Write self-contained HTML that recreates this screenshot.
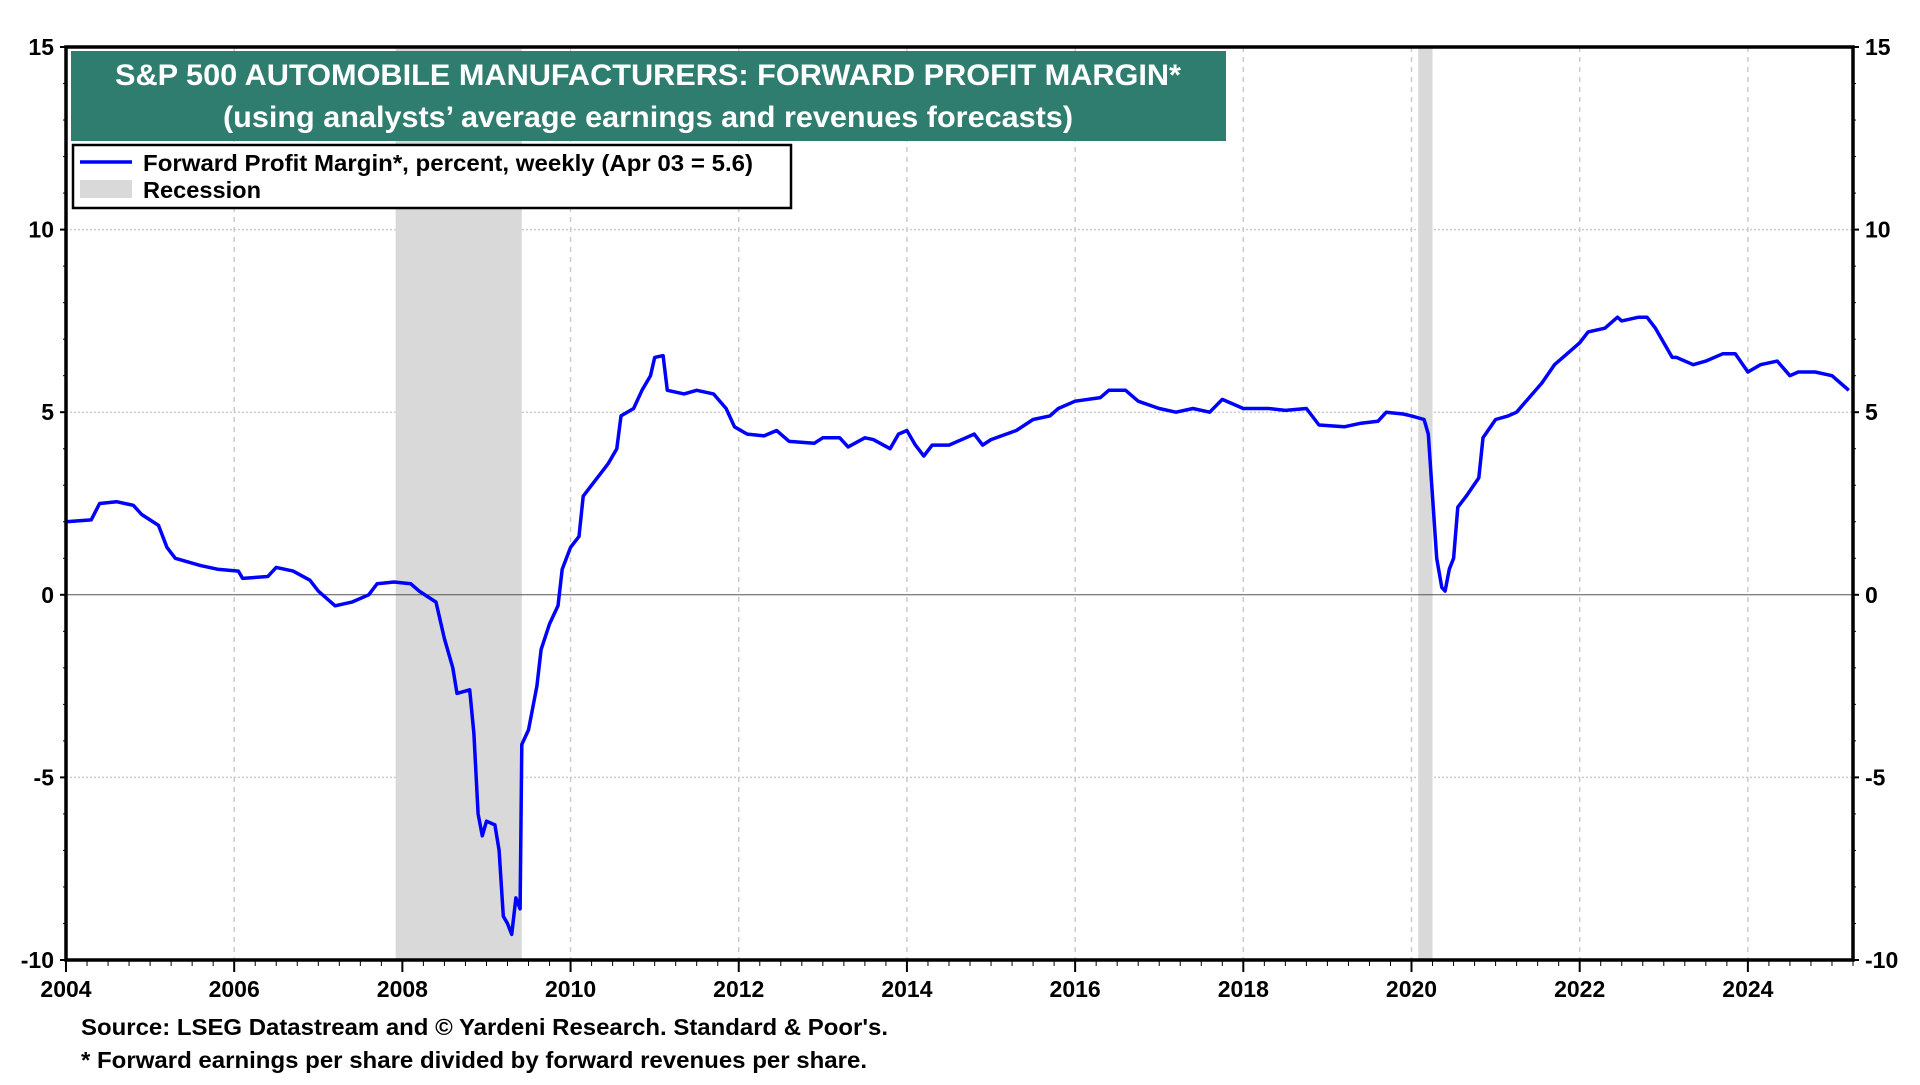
<!DOCTYPE html>
<html><head><meta charset="utf-8">
<style>
html,body{margin:0;padding:0;background:#fff;}
body{width:1920px;height:1080px;overflow:hidden;font-family:"Liberation Sans",sans-serif;}
svg text{font-family:"Liberation Sans",sans-serif;font-weight:bold;}
</style></head>
<body>
<svg id="chart" width="1920" height="1080" xmlns="http://www.w3.org/2000/svg">
<g id="grid"></g>
<g id="recessions"></g>
<line id="zero" stroke="#555" stroke-width="1"/>
<path id="line" fill="none" stroke="#0000ff" stroke-width="3.5" stroke-linejoin="round"/>
<rect x="66" y="47" width="1787" height="913" fill="none" stroke="#000" stroke-width="3.5"/>
<g id="axes"></g>
<rect x="71" y="51" width="1155" height="90" fill="#2e7d6f"/>
<text x="648" y="85" fill="#fff" font-size="30" text-anchor="middle" textLength="1066" lengthAdjust="spacingAndGlyphs">S&amp;P 500 AUTOMOBILE MANUFACTURERS: FORWARD PROFIT MARGIN*</text>
<text x="648" y="127" fill="#fff" font-size="30" text-anchor="middle" textLength="850" lengthAdjust="spacingAndGlyphs">(using analysts’ average earnings and revenues forecasts)</text>
<g>
<rect x="73" y="145" width="718" height="63" fill="#fff" stroke="#000" stroke-width="2.5"/>
<line x1="80" y1="162" x2="132" y2="162" stroke="#0000ff" stroke-width="3.5"/>
<text x="143" y="171" font-size="23" textLength="610" lengthAdjust="spacingAndGlyphs">Forward Profit Margin*, percent, weekly (Apr 03 = 5.6)</text>
<rect x="80" y="180" width="52" height="18" fill="#d9d9d9"/>
<text x="143" y="198" font-size="23" textLength="118" lengthAdjust="spacingAndGlyphs">Recession</text>
</g>
<text x="81" y="1035" font-size="23" textLength="807" lengthAdjust="spacingAndGlyphs">Source: LSEG Datastream and © Yardeni Research. Standard &amp; Poor's.</text>
<text x="81" y="1068" font-size="23" textLength="786" lengthAdjust="spacingAndGlyphs">* Forward earnings per share divided by forward revenues per share.</text>
</svg>
<script>
const years=[2004.0,2004.3,2004.4,2004.6,2004.8,2004.9,2005.1,2005.2,2005.3,2005.6,2005.8,2006.05,2006.1,2006.4,2006.5,2006.7,2006.9,2007.0,2007.2,2007.4,2007.6,2007.7,2007.9,2008.1,2008.2,2008.4,2008.5,2008.6,2008.65,2008.8,2008.85,2008.9,2008.95,2009.0,2009.1,2009.15,2009.2,2009.25,2009.3,2009.35,2009.4,2009.42,2009.5,2009.6,2009.65,2009.75,2009.85,2009.9,2010.0,2010.1,2010.15,2010.25,2010.35,2010.45,2010.55,2010.6,2010.75,2010.85,2010.95,2011.0,2011.1,2011.15,2011.35,2011.5,2011.7,2011.85,2011.95,2012.1,2012.3,2012.45,2012.6,2012.9,2013.0,2013.2,2013.3,2013.5,2013.6,2013.8,2013.9,2014.0,2014.1,2014.2,2014.3,2014.5,2014.7,2014.8,2014.9,2015.0,2015.3,2015.5,2015.7,2015.8,2016.0,2016.3,2016.4,2016.6,2016.75,2017.0,2017.2,2017.4,2017.6,2017.75,2018.0,2018.3,2018.5,2018.75,2018.9,2019.2,2019.4,2019.6,2019.7,2019.9,2020.0,2020.15,2020.2,2020.25,2020.3,2020.36,2020.4,2020.45,2020.5,2020.55,2020.65,2020.8,2020.85,2021.0,2021.15,2021.25,2021.4,2021.55,2021.7,2021.8,2022.0,2022.1,2022.3,2022.45,2022.5,2022.7,2022.8,2022.9,2023.1,2023.15,2023.35,2023.5,2023.7,2023.85,2024.0,2024.15,2024.35,2024.5,2024.6,2024.8,2025.0,2025.1,2025.2,2025.25];
const margins=[2.0,2.05,2.5,2.55,2.45,2.2,1.9,1.3,1.0,0.8,0.7,0.65,0.45,0.5,0.75,0.65,0.4,0.1,-0.3,-0.2,0.0,0.3,0.35,0.3,0.1,-0.2,-1.2,-2.0,-2.7,-2.6,-3.8,-6.0,-6.6,-6.2,-6.3,-7.0,-8.8,-9.0,-9.3,-8.3,-8.6,-4.1,-3.7,-2.5,-1.5,-0.8,-0.3,0.7,1.3,1.6,2.7,3.0,3.3,3.6,4.0,4.9,5.1,5.6,6.0,6.5,6.55,5.6,5.5,5.6,5.5,5.1,4.6,4.4,4.35,4.5,4.2,4.15,4.3,4.3,4.05,4.3,4.25,4.0,4.4,4.5,4.1,3.8,4.1,4.1,4.3,4.4,4.1,4.25,4.5,4.8,4.9,5.1,5.3,5.4,5.6,5.6,5.3,5.1,5.0,5.1,5.0,5.35,5.1,5.1,5.05,5.1,4.65,4.6,4.7,4.75,5.0,4.95,4.9,4.8,4.4,2.7,1.0,0.2,0.1,0.7,1.0,2.4,2.7,3.2,4.3,4.8,4.9,5.0,5.4,5.8,6.3,6.5,6.9,7.2,7.3,7.6,7.5,7.6,7.6,7.3,6.5,6.5,6.3,6.4,6.6,6.6,6.1,6.3,6.4,6.0,6.1,6.1,6.0,5.8,5.6];
const recStart=[2007.92,2020.08];
const recEnd=[2009.42,2020.25];
const yTicks=[15,10,5,0,-5,-10];
const xTickLabels=[2004,2006,2008,2010,2012,2014,2016,2018,2020,2022,2024];

const X0=66,X1=1853,Y0=47,Y1=960,T0=2004,T1=2025.25,V0=-10,V1=15;
const xs=t=>X0+(t-T0)/(T1-T0)*(X1-X0);
const ys=v=>Y1-(v-V0)/(V1-V0)*(Y1-Y0);
const NS="http://www.w3.org/2000/svg";
function mk(tag,attrs,parent){const e=document.createElementNS(NS,tag);for(const k in attrs)e.setAttribute(k,attrs[k]);parent.appendChild(e);return e;}
const grid=document.getElementById('grid'),axes=document.getElementById('axes'),rec=document.getElementById('recessions');
yTicks.forEach(v=>{
  if(v!==15&&v!==-10&&v!==0){const g=mk('line',{x1:X0,x2:X1,y1:ys(v),y2:ys(v),stroke:'#ccc','stroke-width':1.5,'stroke-dasharray':'2,2'},grid);
  
  }
  const l=mk('text',{x:X0-12,y:ys(v)+8,'font-size':23,'text-anchor':'end'},axes);l.textContent=v;
  
  
  const r=mk('text',{x:X1+12,y:ys(v)+8,'font-size':23,'text-anchor':'start'},axes);r.textContent=v;
  
  
  mk('line',{x1:X0-6,x2:X0,y1:ys(v),y2:ys(v),stroke:'#000','stroke-width':2},axes);
  mk('line',{x1:X1,x2:X1+6,y1:ys(v),y2:ys(v),stroke:'#000','stroke-width':2},axes);
});
for(let v=-10;v<=15;v++){mk('line',{x1:X0-3,x2:X0,y1:ys(v),y2:ys(v),stroke:'#000','stroke-width':1},axes);mk('line',{x1:X1,x2:X1+3,y1:ys(v),y2:ys(v),stroke:'#000','stroke-width':1},axes);}
xTickLabels.forEach(t=>{
  if(t!==2004){const g=mk('line',{x1:xs(t),x2:xs(t),y1:Y0,y2:Y1,stroke:'#ccc','stroke-width':1.5,'stroke-dasharray':'5,5'},grid);
  
  }
  const l=mk('text',{x:xs(t),y:Y1+37,'font-size':23,'text-anchor':'middle'},axes);l.textContent=t;
  
  
  mk('line',{x1:xs(t),x2:xs(t),y1:Y1,y2:Y1+12,stroke:'#000','stroke-width':2},axes);
});
for(let m=0;m<=255;m+=3){const t=T0+m/12;mk('line',{x1:xs(t),x2:xs(t),y1:Y1,y2:Y1+6,stroke:'#000','stroke-width':1},axes);}
recStart.forEach((s,i)=>{const r=mk('rect',{x:xs(s),y:Y0,width:xs(recEnd[i])-xs(s),height:Y1-Y0,fill:'#d9d9d9'},rec);
  
  });
const z=document.getElementById('zero');z.setAttribute('x1',X0);z.setAttribute('x2',X1);z.setAttribute('y1',ys(0));z.setAttribute('y2',ys(0));
document.getElementById('line').setAttribute('d',years.map((t,i)=>(i?'L':'M')+xs(t).toFixed(1)+','+ys(margins[i]).toFixed(1)).join(''));
</script>
</body></html>
